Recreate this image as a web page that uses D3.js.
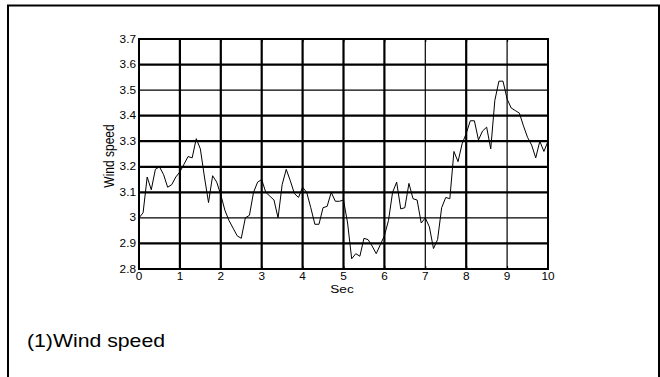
<!DOCTYPE html>
<html>
<head>
<meta charset="utf-8">
<script src="https://cdn.jsdelivr.net/npm/d3@7"></script>
<style>
  html, body { margin: 0; padding: 0; background: #fff; }
  svg { display: block; }
  text { font-family: "Liberation Sans", Arial, sans-serif; fill: #000; }
</style>
</head>
<body>
<svg id="chart" width="660" height="377"></svg>
<script>
// ---- data ----
const times = d3.range(0, 101).map(i => i / 10);
const windSpeed = [
  3.00, 3.02, 3.16, 3.11, 3.19, 3.20, 3.17, 3.12, 3.13, 3.16,
  3.18, 3.21, 3.24, 3.235, 3.31, 3.27, 3.16, 3.06, 3.165, 3.14,
  3.09, 3.03, 2.99, 2.96, 2.93, 2.92, 3.00, 3.01, 3.10, 3.14,
  3.15, 3.10, 3.085, 3.07, 3.00, 3.13, 3.19, 3.145, 3.095, 3.08,
  3.12, 3.10, 3.04, 2.975, 2.975, 3.04, 3.045, 3.10, 3.065, 3.065,
  3.07, 2.98, 2.84, 2.86, 2.85, 2.92, 2.915, 2.89, 2.86, 2.895,
  2.93, 2.99, 3.10, 3.14, 3.035, 3.04, 3.135, 3.075, 3.07, 2.98,
  3.00, 2.965, 2.88, 2.915, 3.04, 3.08, 3.075, 3.26, 3.22, 3.29,
  3.33, 3.38, 3.38, 3.305, 3.34, 3.355, 3.27, 3.46, 3.535, 3.535,
  3.465, 3.43, 3.42, 3.41, 3.36, 3.315, 3.285, 3.235, 3.30, 3.26,
  3.30
];
const xTicks = [0, 1, 2, 3, 4, 5, 6, 7, 8, 9, 10];
const yTicks = [2.8, 2.9, 3.0, 3.1, 3.2, 3.3, 3.4, 3.5, 3.6, 3.7];
const yTickLabels = ["2.8", "2.9", "3", "3.1", "3.2", "3.3", "3.4", "3.5", "3.6", "3.7"];
const xLabel = "Sec";
const yLabel = "Wind speed";
const caption = "(1)Wind speed";

// ---- layout ----
const svg = d3.select("#chart");
const L = 139, R = 548, T = 39, B = 269;
const SX = 1.18; // horizontal stretch of text

const x = d3.scaleLinear().domain([0, 10]).range([L, R]);
const y = d3.scaleLinear().domain([2.8, 3.7]).range([B, T]);

// outer frame
svg.append("path")
  .attr("d", `M8,380 L8,5.5 L659,5.5 L659,380`)
  .attr("fill", "none").attr("stroke", "#000").attr("stroke-width", 2);

// grid
const thinX = new Set([7, 9]);
const thinY = new Set([3.0, 3.5]);
const g = svg.append("g");
g.selectAll("line.gx").data(xTicks.filter(d => d > 0 && d < 10)).enter().append("line")
  .attr("x1", d => x(d)).attr("x2", d => x(d)).attr("y1", T).attr("y2", B)
  .attr("stroke", "#000").attr("stroke-width", d => thinX.has(d) ? 1.2 : 2.2);
g.selectAll("line.gy").data(yTicks.filter(d => d > 2.8 && d < 3.7)).enter().append("line")
  .attr("x1", L).attr("x2", R).attr("y1", d => y(d)).attr("y2", d => y(d))
  .attr("stroke", "#000").attr("stroke-width", d => thinY.has(+d.toFixed(1)) ? 1.2 : 2.2);

// plot frame
svg.append("rect").attr("x", L).attr("y", T).attr("width", R - L).attr("height", B - T)
  .attr("fill", "none").attr("stroke", "#000").attr("stroke-width", 2);

// axes ticks (inward)
const xAxisB = d3.axisBottom(x).tickValues(xTicks).tickSize(-3).tickFormat("");
const xAxisT = d3.axisTop(x).tickValues(xTicks).tickSize(-3).tickFormat("");
svg.append("g").attr("transform", `translate(0,${B})`).call(xAxisB).call(s => s.select(".domain").remove());
svg.append("g").attr("transform", `translate(0,${T})`).call(xAxisT).call(s => s.select(".domain").remove());

// tick labels
svg.selectAll("text.xl").data(xTicks).enter().append("text")
  .attr("transform", d => `translate(${x(d)},279.5) scale(${SX},1)`)
  .attr("text-anchor", "middle").attr("font-size", 10).text(d => d);
svg.selectAll("text.yl").data(yTicks).enter().append("text")
  .attr("transform", (d) => `translate(136,${y(d) + 3.6}) scale(${SX},1)`)
  .attr("text-anchor", "end").attr("font-size", 10).text((d, i) => yTickLabels[i]);

// axis titles
svg.append("text").attr("transform", `translate(342,292.5) scale(${SX},1)`)
  .attr("text-anchor", "middle").attr("font-size", 11.5).text(xLabel);
svg.append("text").attr("transform", `translate(114,156) rotate(-90) scale(1,${SX})`)
  .attr("text-anchor", "middle").attr("font-size", 12).text(yLabel);

// line
const line = d3.line().x((d, i) => x(times[i])).y(d => y(d));
svg.append("path").datum(windSpeed).attr("d", line)
  .attr("fill", "none").attr("stroke", "#000").attr("stroke-width", 1);

// caption
svg.append("text").attr("transform", `translate(27,346.5) scale(${SX},1)`)
  .attr("font-size", 18).text(caption);
</script>
</body>
</html>
